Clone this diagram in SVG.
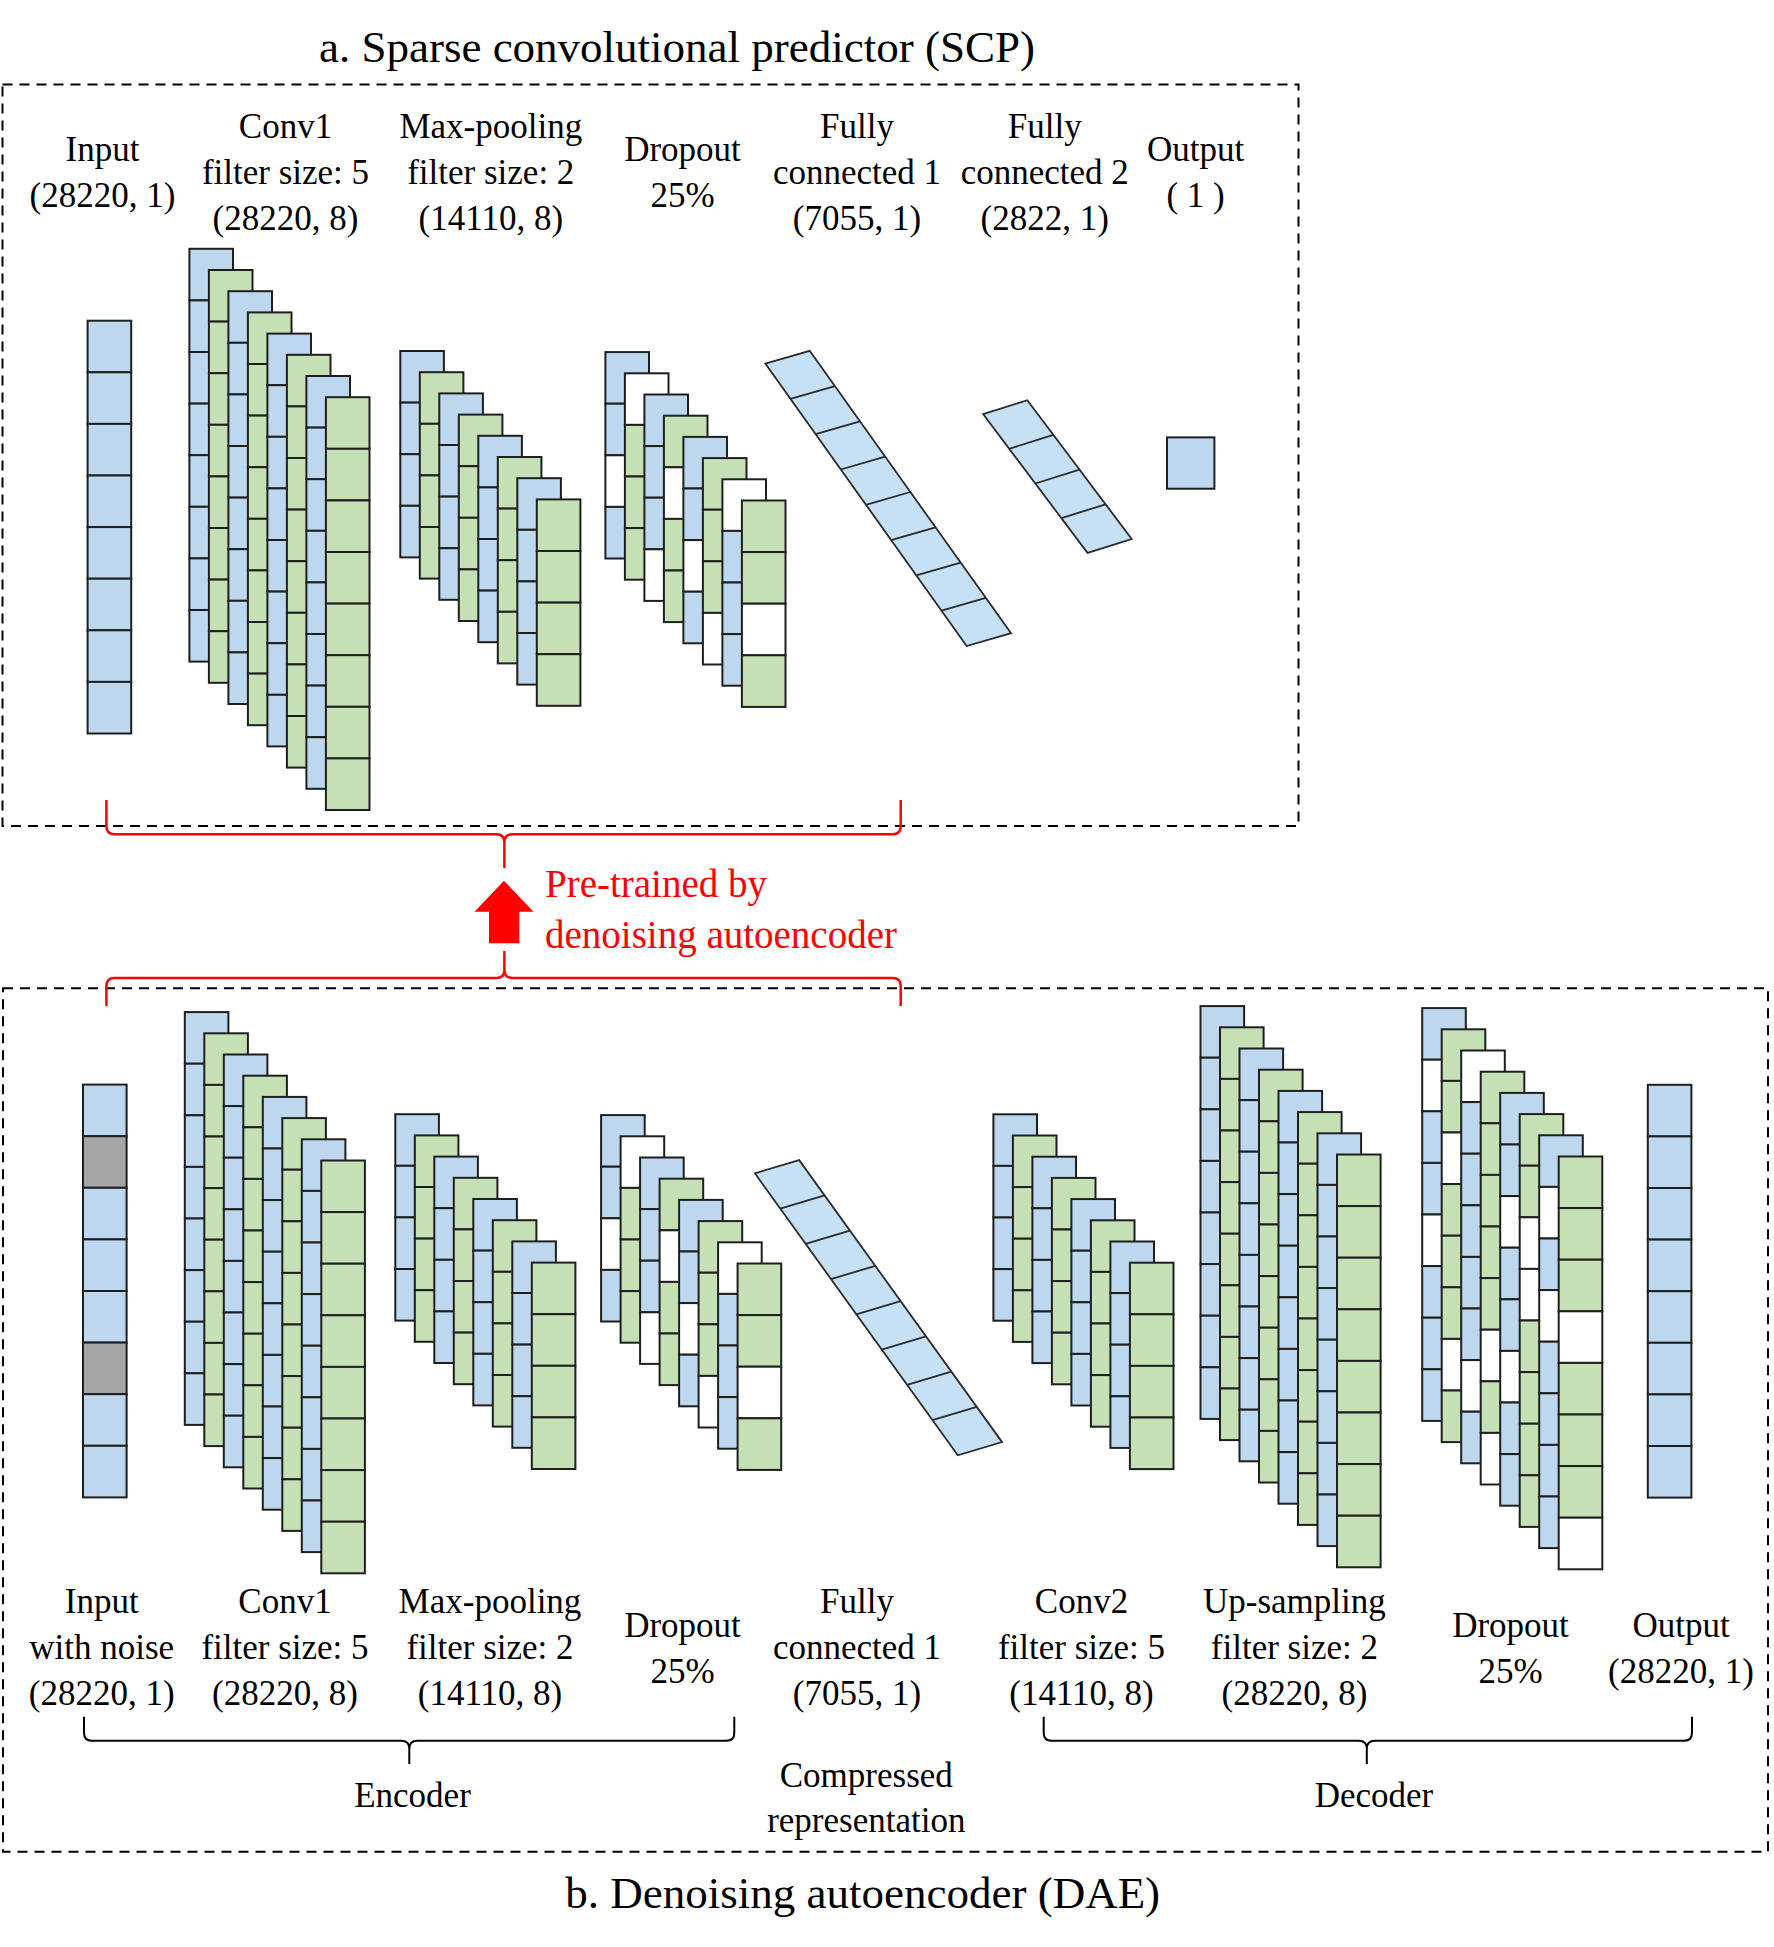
<svg xmlns="http://www.w3.org/2000/svg" width="1774" height="1947" viewBox="0 0 1774 1947">
<style>
.cell{stroke:#1e1e1e;stroke-width:2}
.b{fill:#BDD7EE}.g{fill:#C5E0B4}.w{fill:#FFFFFF}.k{fill:#A5A5A5}
.fc{fill:#C6E0F6;stroke:#2a2a2a;stroke-width:1.8;stroke-linejoin:miter}
.fcl{stroke:#2a2a2a;stroke-width:1.8}
.lbl{font-family:"Liberation Serif","Times New Roman",serif;font-size:35px;text-anchor:middle;fill:#000}
.ttl{font-family:"Liberation Serif","Times New Roman",serif;font-size:45px;text-anchor:middle;fill:#000}
.red{font-family:"Liberation Serif","Times New Roman",serif;font-size:39px;fill:#FF0000}
.box{fill:none;stroke:#000;stroke-width:2;stroke-dasharray:10 7}
.rb{fill:none;stroke:#FF0000;stroke-width:2.5}
.kb{fill:none;stroke:#000;stroke-width:2}
</style>
<defs>
<rect id="B" class="cell b" width="43.6" height="51.6"/>
<rect id="G" class="cell g" width="43.6" height="51.6"/>
<rect id="W" class="cell w" width="43.6" height="51.6"/>
<rect id="K" class="cell k" width="43.6" height="51.6"/>
<g id="b4"><use href="#B"/><use href="#B" y="51.6"/><use href="#B" y="103.2"/><use href="#B" y="154.8"/></g>
<g id="g4"><use href="#G"/><use href="#G" y="51.6"/><use href="#G" y="103.2"/><use href="#G" y="154.8"/></g>
<g id="b8"><use href="#b4"/><use href="#b4" y="206.4"/></g>
<g id="g8"><use href="#g4"/><use href="#g4" y="206.4"/></g>
<g id="d1"><use href="#B"/><use href="#B" y="51.6"/><use href="#W" y="103.2"/><use href="#B" y="154.8"/></g>
<g id="d2"><use href="#W"/><use href="#G" y="51.6"/><use href="#G" y="103.2"/><use href="#G" y="154.8"/></g>
<g id="d3"><use href="#B"/><use href="#B" y="51.6"/><use href="#B" y="103.2"/><use href="#W" y="154.8"/></g>
<g id="d4"><use href="#G"/><use href="#W" y="51.6"/><use href="#G" y="103.2"/><use href="#G" y="154.8"/></g>
<g id="d6"><use href="#G"/><use href="#G" y="51.6"/><use href="#G" y="103.2"/><use href="#W" y="154.8"/></g>
<g id="d7"><use href="#W"/><use href="#B" y="51.6"/><use href="#B" y="103.2"/><use href="#B" y="154.8"/></g>
<g id="d8"><use href="#G"/><use href="#G" y="51.6"/><use href="#W" y="103.2"/><use href="#G" y="154.8"/></g>
<g id="e1"><use href="#B"/><use href="#W" y="51.6"/><use href="#B" y="103.2"/><use href="#B" y="154.8"/><use href="#W" y="206.4"/><use href="#B" y="258"/><use href="#B" y="309.6"/><use href="#B" y="361.2"/></g>
<g id="e2"><use href="#G"/><use href="#G" y="51.6"/><use href="#W" y="103.2"/><use href="#G" y="154.8"/><use href="#G" y="206.4"/><use href="#G" y="258"/><use href="#W" y="309.6"/><use href="#G" y="361.2"/></g>
<g id="e3"><use href="#W"/><use href="#B" y="51.6"/><use href="#B" y="103.2"/><use href="#B" y="154.8"/><use href="#B" y="206.4"/><use href="#B" y="258"/><use href="#W" y="309.6"/><use href="#B" y="361.2"/></g>
<g id="e4"><use href="#G"/><use href="#G" y="51.6"/><use href="#G" y="103.2"/><use href="#G" y="154.8"/><use href="#G" y="206.4"/><use href="#W" y="258"/><use href="#G" y="309.6"/><use href="#W" y="361.2"/></g>
<g id="e5"><use href="#B"/><use href="#B" y="51.6"/><use href="#W" y="103.2"/><use href="#B" y="154.8"/><use href="#B" y="206.4"/><use href="#W" y="258"/><use href="#B" y="309.6"/><use href="#B" y="361.2"/></g>
<g id="e6"><use href="#G"/><use href="#G" y="51.6"/><use href="#W" y="103.2"/><use href="#W" y="154.8"/><use href="#G" y="206.4"/><use href="#G" y="258"/><use href="#G" y="309.6"/><use href="#G" y="361.2"/></g>
<g id="e7"><use href="#B"/><use href="#W" y="51.6"/><use href="#B" y="103.2"/><use href="#W" y="154.8"/><use href="#B" y="206.4"/><use href="#B" y="258"/><use href="#B" y="309.6"/><use href="#B" y="361.2"/></g>
<g id="e8"><use href="#G"/><use href="#G" y="51.6"/><use href="#G" y="103.2"/><use href="#W" y="154.8"/><use href="#G" y="206.4"/><use href="#G" y="258"/><use href="#G" y="309.6"/><use href="#W" y="361.2"/></g>
</defs>
<rect width="1774" height="1947" fill="#FFFFFF"/>

<text class="ttl" x="677" y="62">a. Sparse convolutional predictor (SCP)</text>
<rect class="box" x="2.5" y="84.5" width="1296" height="741.5"/>

<g id="scp-input">
<text class="lbl" x="102.5" y="161">Input</text>
<text class="lbl" x="102.5" y="207">(28220, 1)</text>
<use href="#b8" x="87.6" y="320.7"/>
</g>
<g id="scp-conv1">
<text class="lbl" x="285.5" y="138">Conv1</text>
<text class="lbl" x="285.5" y="184">filter size: 5</text>
<text class="lbl" x="285.5" y="230">(28220, 8)</text>
<use href="#b8" x="189.4" y="248.8"/><use href="#g8" x="208.9" y="270"/><use href="#b8" x="228.4" y="291.2"/><use href="#g8" x="247.9" y="312.4"/><use href="#b8" x="267.4" y="333.6"/><use href="#g8" x="286.9" y="354.8"/><use href="#b8" x="306.4" y="376"/><use href="#g8" x="325.9" y="397.2"/>
</g>
<g id="scp-maxpool">
<text class="lbl" x="490.8" y="138">Max-pooling</text>
<text class="lbl" x="490.8" y="184">filter size: 2</text>
<text class="lbl" x="490.8" y="230">(14110, 8)</text>
<use href="#b4" x="400.3" y="351"/><use href="#g4" x="419.8" y="372.2"/><use href="#b4" x="439.3" y="393.4"/><use href="#g4" x="458.8" y="414.6"/><use href="#b4" x="478.3" y="435.8"/><use href="#g4" x="497.8" y="457"/><use href="#b4" x="517.3" y="478.2"/><use href="#g4" x="536.8" y="499.4"/>
</g>
<g id="scp-dropout">
<text class="lbl" x="682.5" y="161">Dropout</text>
<text class="lbl" x="682.5" y="207">25%</text>
<use href="#d1" x="605.4" y="352.1"/><use href="#d2" x="624.9" y="373.3"/><use href="#d3" x="644.4" y="394.5"/><use href="#d4" x="663.9" y="415.7"/><use href="#d1" x="683.4" y="436.9"/><use href="#d6" x="702.9" y="458.1"/><use href="#d7" x="722.4" y="479.3"/><use href="#d8" x="741.9" y="500.5"/>
</g>
<g id="scp-fc1">
<text class="lbl" x="857" y="138">Fully</text>
<text class="lbl" x="857" y="184">connected 1</text>
<text class="lbl" x="857" y="230">(7055, 1)</text>
<polygon class="fc" points="765.3,363.6 809.7,350.8 1011.06,633.2 966.66,646"/>
<path class="fcl" d="M790.47,398.9L834.87,386.1M815.64,434.2L860.04,421.4M840.81,469.5L885.21,456.7M865.98,504.8L910.38,492M891.15,540.1L935.55,527.3M916.32,575.4L960.72,562.6M941.49,610.7L985.89,597.9"/>
</g>
<g id="scp-fc2">
<text class="lbl" x="1044.7" y="138">Fully</text>
<text class="lbl" x="1044.7" y="184">connected 2</text>
<text class="lbl" x="1044.7" y="230">(2822, 1)</text>
<polygon class="fc" points="983.1,414.1 1027.3,400.2 1131.7,539 1087.5,552.9"/>
<path class="fcl" d="M1009.2,448.8L1053.4,434.9M1035.3,483.5L1079.5,469.6M1061.4,518.2L1105.6,504.3"/>
</g>
<g id="scp-output">
<text class="lbl" x="1195.6" y="161">Output</text>
<text class="lbl" x="1195.6" y="207">( 1 )</text>
<rect class="cell b" x="1167" y="437.4" width="47.4" height="51.3"/>
</g>

<rect class="box" x="3" y="988.3" width="1765" height="863.5"/>
<text class="ttl" x="862.7" y="1908">b. Denoising autoencoder (DAE)</text>

<g id="dae-input">
<use href="#B" x="83" y="1084.6"/><use href="#K" x="83" y="1136.2"/><use href="#B" x="83" y="1187.8"/><use href="#B" x="83" y="1239.4"/><use href="#B" x="83" y="1291"/><use href="#K" x="83" y="1342.6"/><use href="#B" x="83" y="1394.2"/><use href="#B" x="83" y="1445.8"/>
<text class="lbl" x="101.7" y="1613">Input</text>
<text class="lbl" x="101.7" y="1659">with noise</text>
<text class="lbl" x="101.7" y="1705">(28220, 1)</text>
</g>
<g id="dae-conv1">
<use href="#b8" x="184.8" y="1012.1"/><use href="#g8" x="204.3" y="1033.3"/><use href="#b8" x="223.8" y="1054.5"/><use href="#g8" x="243.3" y="1075.7"/><use href="#b8" x="262.8" y="1096.9"/><use href="#g8" x="282.3" y="1118.1"/><use href="#b8" x="301.8" y="1139.3"/><use href="#g8" x="321.3" y="1160.5"/>
<text class="lbl" x="285" y="1613">Conv1</text>
<text class="lbl" x="285" y="1659">filter size: 5</text>
<text class="lbl" x="285" y="1705">(28220, 8)</text>
</g>
<g id="dae-maxpool">
<use href="#b4" x="395.3" y="1114.2"/><use href="#g4" x="414.8" y="1135.4"/><use href="#b4" x="434.3" y="1156.6"/><use href="#g4" x="453.8" y="1177.8"/><use href="#b4" x="473.3" y="1199"/><use href="#g4" x="492.8" y="1220.2"/><use href="#b4" x="512.3" y="1241.4"/><use href="#g4" x="531.8" y="1262.6"/>
<text class="lbl" x="490" y="1613">Max-pooling</text>
<text class="lbl" x="490" y="1659">filter size: 2</text>
<text class="lbl" x="490" y="1705">(14110, 8)</text>
</g>
<g id="dae-dropout1">
<use href="#d1" x="601.1" y="1115.1"/><use href="#d2" x="620.6" y="1136.3"/><use href="#d3" x="640.1" y="1157.5"/><use href="#d4" x="659.6" y="1178.7"/><use href="#d1" x="679.1" y="1199.9"/><use href="#d6" x="698.6" y="1221.1"/><use href="#d7" x="718.1" y="1242.3"/><use href="#d8" x="737.6" y="1263.5"/>
<text class="lbl" x="682.5" y="1637">Dropout</text>
<text class="lbl" x="682.5" y="1683">25%</text>
</g>
<g id="dae-fc1">
<polygon class="fc" points="754.9,1173.3 799.2,1160.1 1002.08,1442.1 957.78,1455.3"/>
<path class="fcl" d="M780.26,1208.55L824.56,1195.35M805.62,1243.8L849.92,1230.6M830.98,1279.05L875.28,1265.85M856.34,1314.3L900.64,1301.1M881.7,1349.55L926,1336.35M907.06,1384.8L951.36,1371.6M932.42,1420.05L976.72,1406.85"/>
<text class="lbl" x="857" y="1613">Fully</text>
<text class="lbl" x="857" y="1659">connected 1</text>
<text class="lbl" x="857" y="1705">(7055, 1)</text>
<text class="lbl" x="866.3" y="1787">Compressed</text>
<text class="lbl" x="866.3" y="1832">representation</text>
</g>
<g id="dae-conv2">
<use href="#b4" x="993.4" y="1114.3"/><use href="#g4" x="1012.9" y="1135.5"/><use href="#b4" x="1032.4" y="1156.7"/><use href="#g4" x="1051.9" y="1177.9"/><use href="#b4" x="1071.4" y="1199.1"/><use href="#g4" x="1090.9" y="1220.3"/><use href="#b4" x="1110.4" y="1241.5"/><use href="#g4" x="1129.9" y="1262.7"/>
<text class="lbl" x="1081.5" y="1613">Conv2</text>
<text class="lbl" x="1081.5" y="1659">filter size: 5</text>
<text class="lbl" x="1081.5" y="1705">(14110, 8)</text>
</g>
<g id="dae-upsampling">
<use href="#b8" x="1200.5" y="1006.1"/><use href="#g8" x="1220" y="1027.3"/><use href="#b8" x="1239.5" y="1048.5"/><use href="#g8" x="1259" y="1069.7"/><use href="#b8" x="1278.5" y="1090.9"/><use href="#g8" x="1298" y="1112.1"/><use href="#b8" x="1317.5" y="1133.3"/><use href="#g8" x="1337" y="1154.5"/>
<text class="lbl" x="1294.4" y="1613">Up-sampling</text>
<text class="lbl" x="1294.4" y="1659">filter size: 2</text>
<text class="lbl" x="1294.4" y="1705">(28220, 8)</text>
</g>
<g id="dae-dropout2">
<use href="#e1" x="1422.2" y="1008.1"/><use href="#e2" x="1441.7" y="1029.3"/><use href="#e3" x="1461.2" y="1050.5"/><use href="#e4" x="1480.7" y="1071.7"/><use href="#e5" x="1500.2" y="1092.9"/><use href="#e6" x="1519.7" y="1114.1"/><use href="#e7" x="1539.2" y="1135.3"/><use href="#e8" x="1558.7" y="1156.5"/>
<text class="lbl" x="1510.5" y="1637">Dropout</text>
<text class="lbl" x="1510.5" y="1683">25%</text>
</g>
<g id="dae-output">
<use href="#b8" x="1647.8" y="1084.8"/>
<text class="lbl" x="1681" y="1637">Output</text>
<text class="lbl" x="1681" y="1683">(28220, 1)</text>
</g>

<g id="connectors">
<path class="rb" d="M106.4,800 L106.4,826 Q106.4,834.3 114.4,834.3 L496.4,834.3 Q504.4,834.3 504.4,842.3 L504.4,868 M504.4,842.3 Q504.4,834.3 512.4,834.3 L892.7,834.3 Q900.7,834.3 900.7,826.3 L900.7,800"/>
<path class="rb" d="M106.4,1006 L106.4,986 Q106.4,978 114.4,978 L496.4,978 Q504.4,978 504.4,970 L504.4,951 M504.4,970 Q504.4,978 512.4,978 L892.7,978 Q900.7,978 900.7,986 L900.7,1006"/>
<polygon fill="#FF0000" points="504,880.7 533.5,911.7 519.3,911.7 519.3,943.3 489,943.3 489,911.7 474.5,911.7"/>
<path class="kb" d="M84,1716.7 L84,1732.7 Q84,1740.7 92,1740.7 L401.3,1740.7 Q409.3,1740.7 409.3,1748.7 L409.3,1764 M409.3,1748.7 Q409.3,1740.7 417.3,1740.7 L726.3,1740.7 Q734.3,1740.7 734.3,1732.7 L734.3,1716.7"/>
<path class="kb" d="M1043.7,1716.7 L1043.7,1732.7 Q1043.7,1740.7 1051.7,1740.7 L1358.8,1740.7 Q1366.8,1740.7 1366.8,1748.7 L1366.8,1764 M1366.8,1748.7 Q1366.8,1740.7 1374.8,1740.7 L1684,1740.7 Q1692,1740.7 1692,1732.7 L1692,1716.7"/>
</g>
<text class="red" x="545" y="897">Pre-trained by</text>
<text class="red" x="545" y="948">denoising autoencoder</text>
<text class="lbl" x="412.5" y="1807">Encoder</text>
<text class="lbl" x="1374" y="1807">Decoder</text>
</svg>
